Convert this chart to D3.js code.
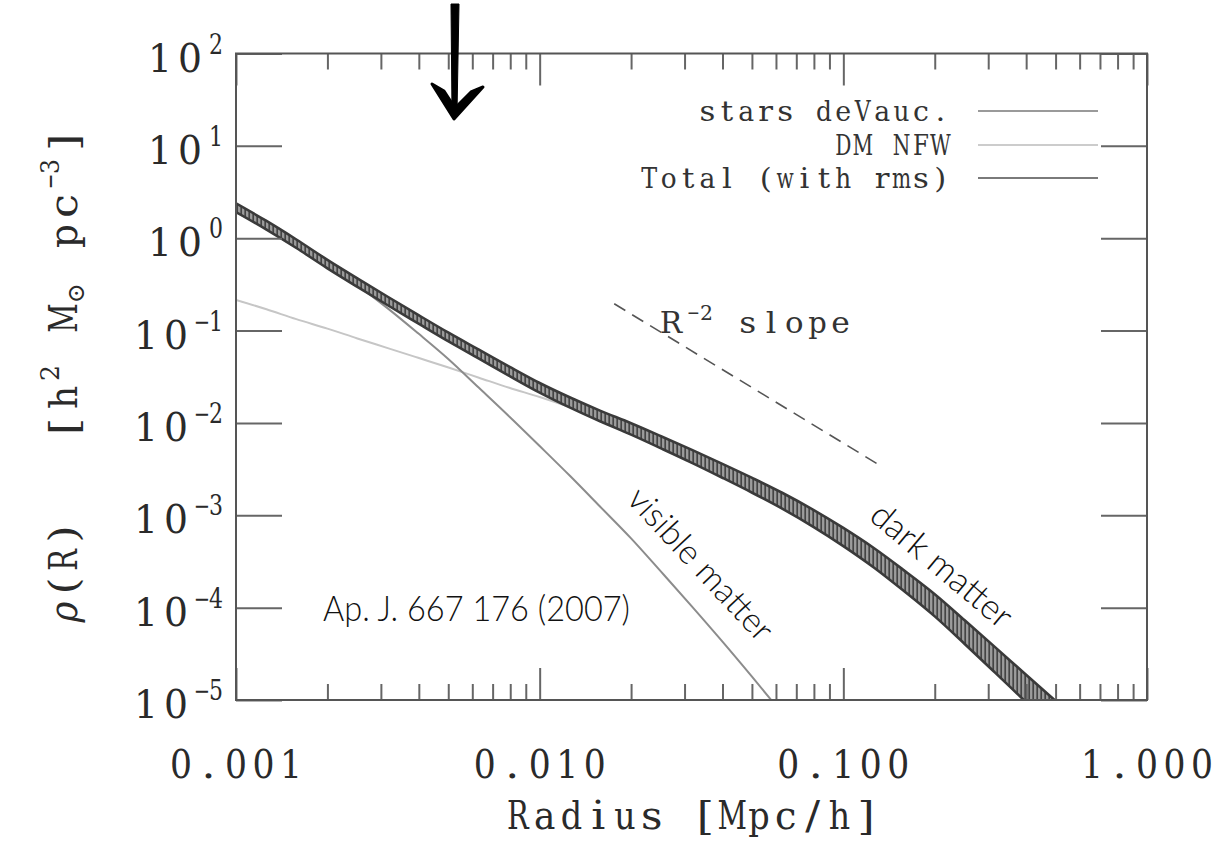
<!DOCTYPE html>
<html>
<head>
<meta charset="utf-8">
<script src="https://cdn.jsdelivr.net/npm/d3@7"></script>
<style>
  html, body { margin: 0; padding: 0; background: #fff; }
  svg { display: block; }
</style>
</head>
<body>
<svg id="chart" width="1218" height="843"></svg>
<script>
// ---- data -------------------------------------------------------------
// radius grid in Mpc/h
const radius = [0.001, 0.00126, 0.00158, 0.00200, 0.00251, 0.00316, 0.00398, 0.00501, 0.00631, 0.00794,
                0.0100, 0.0126, 0.0158, 0.0200, 0.0251, 0.0316, 0.0398, 0.0501, 0.0631, 0.0794,
                0.100, 0.126, 0.158, 0.200, 0.251, 0.316, 0.398, 0.501];

// stellar (de Vaucouleurs) density, first 19 radii
const starsRho = [1.905, 1.288, 0.813, 0.513, 0.309, 0.174, 0.0933, 0.0490, 0.0240, 0.01175,
                  0.00562, 0.00266, 0.001245, 0.000562, 0.000245, 0.0001047, 0.0000437, 0.0000178, 0.00000708];

// dark matter NFW density
const nfwRho = [0.215, 0.170, 0.133, 0.105, 0.0822, 0.0646, 0.0507, 0.0398, 0.0309, 0.0240,
                0.0191, 0.0148, 0.0112, 0.00832, 0.00603, 0.00427, 0.00295, 0.00204, 0.00141, 0.000955,
                0.000589, 0.000339, 0.000191, 0.000102, 0.0000525, 0.0000263, 0.0000132, 0.00000661];

// total density and its rms scatter (in dex)
const totalRho = [2.14, 1.38, 0.871, 0.525, 0.331, 0.209, 0.133, 0.0851, 0.0556, 0.0363,
                  0.0240, 0.0166, 0.0119, 0.00861, 0.00617, 0.00437, 0.00305, 0.00211, 0.00143, 0.000933,
                  0.000582, 0.000347, 0.000197, 0.000106, 0.0000543, 0.0000272, 0.0000135, 0.00000676];
const totalRmsDex = [0.047, 0.047, 0.046, 0.046, 0.046, 0.046, 0.046, 0.047, 0.048, 0.05,
                     0.052, 0.055, 0.058, 0.062, 0.066, 0.07, 0.075, 0.08, 0.086, 0.092,
                     0.098, 0.105, 0.112, 0.12, 0.128, 0.138, 0.148, 0.158];

// reference R^-2 power law segment
const slopeRadius = [0.0176, 0.129];
const slopeRho = [0.195, 0.00363];

// axes
const xMajorTicks = [0.001, 0.01, 0.1, 1];
const xTickLabels = ["0.001", "0.010", "0.100", "1.000"];
const xMinorMultipliers = [2, 3, 4, 5, 6, 7, 8, 9];
const yMajorTicks = [1e2, 1e1, 1e0, 1e-1, 1e-2, 1e-3, 1e-4, 1e-5];
const yTickExponents = ["2", "1", "0", "\u22121", "\u22122", "\u22123", "\u22124", "\u22125"];

const legendLabels = ["stars deVauc.", "DM NFW", "Total (with rms)"];
const legendColors = ["#9a9a9a", "#cccccc", "#7a7a7a"];

// ---- layout -----------------------------------------------------------
const svg = d3.select("#chart");
const plot = { left: 236, right: 1147, top: 53.5, bottom: 700 };
const serif = "'DejaVu Serif', 'Liberation Serif', serif";
const sans = "Lato, 'Open Sans', sans-serif";
const ink = "#2a2a2a";

const x = d3.scaleLog().domain([0.001, 1]).range([plot.left, plot.right]);
const y = d3.scaleLog().domain([1e-5, 1e2]).range([plot.bottom, plot.top]);

// Typewriter-style text: every glyph is centred in a fixed-width cell and
// stretched or squeezed horizontally to a common glyph width.
// segments: [{text, cell, size, dy, gap, fill, italic}]
function cellWidth(segments) {
  return d3.sum(segments, s => [...s.text].length * s.cell + (s.gap || 0));
}
function cellText(parent, x0, y0, segments, color, fill = 0.8) {
  const g = parent.append("g").attr("fill", color).attr("font-family", serif);
  let pos = 0;
  segments.forEach(s => {
    pos += s.gap || 0;
    [...s.text].forEach(ch => {
      if (ch !== " ") {
        const t = g.append("text")
          .attr("text-anchor", "middle")
          .attr("font-size", s.size)
          .attr("font-style", s.italic ? "italic" : null)
          .text(ch);
        const w = t.node().getComputedTextLength();
        const target = s.cell * (s.fill || fill);
        const k = w > 0 ? Math.max(0.72, Math.min(1.1, target / w)) : 1;
        t.attr("transform", `translate(${x0 + pos + s.cell / 2},${y0 + (s.dy || 0)}) scale(${k},1)`);
      }
      pos += s.cell;
    });
  });
  return g;
}

const defs = svg.append("defs");
defs.append("clipPath").attr("id", "plotClip")
  .append("rect")
  .attr("x", plot.left).attr("y", plot.top)
  .attr("width", plot.right - plot.left).attr("height", plot.bottom - plot.top);

// vertical hatching used for the rms error bars
const pat = defs.append("pattern").attr("id", "rmsBars")
  .attr("patternUnits", "userSpaceOnUse").attr("width", 4).attr("height", 20);
pat.append("rect").attr("width", 4).attr("height", 20).attr("fill", "#9c9c9c");
pat.append("line").attr("x1", 1.2).attr("x2", 1.2).attr("y1", 0).attr("y2", 20)
  .attr("stroke", "#444").attr("stroke-width", 1.7);

// ---- curves -----------------------------------------------------------
const curves = svg.append("g").attr("clip-path", "url(#plotClip)");

const line = d3.line().x(d => x(d.r)).y(d => y(d.v)).curve(d3.curveMonotoneX);

const nfwData = radius.map((r, i) => ({ r, v: nfwRho[i] }));
const starsData = starsRho.map((v, i) => ({ r: radius[i], v }));
const totalData = radius.map((r, i) => ({ r, v: totalRho[i], e: totalRmsDex[i] }));

curves.append("path").datum(nfwData).attr("d", line)
  .attr("fill", "none").attr("stroke", "#c6c6c6").attr("stroke-width", 2);

curves.append("path").datum(starsData).attr("d", line)
  .attr("fill", "none").attr("stroke", "#8c8c8c").attr("stroke-width", 2);

const hi = d => d.v * Math.pow(10, d.e);
const lo = d => d.v / Math.pow(10, d.e);

curves.append("path").datum(totalData)
  .attr("d", d3.area().x(d => x(d.r)).y0(d => y(lo(d))).y1(d => y(hi(d))).curve(d3.curveMonotoneX))
  .attr("fill", "url(#rmsBars)");
[hi, lo].forEach(f => {
  curves.append("path").datum(totalData)
    .attr("d", d3.line().x(d => x(d.r)).y(d => y(f(d))).curve(d3.curveMonotoneX))
    .attr("fill", "none").attr("stroke", "#3a3a3a").attr("stroke-width", 2.6);
});

// R^-2 reference slope
svg.append("path")
  .datum(slopeRadius.map((r, i) => ({ r, v: slopeRho[i] })))
  .attr("d", d3.line().x(d => x(d.r)).y(d => y(d.v)))
  .attr("fill", "none").attr("stroke", "#555").attr("stroke-width", 1.6)
  .attr("stroke-dasharray", "13,8");

cellText(svg, 657, 333, [
  { text: "R", cell: 28, size: 30 },
  { text: "\u22122", cell: 13, size: 21, dy: -13, gap: 2, fill: 1 },
  { text: " slope", cell: 23.2, size: 30 }
], "#333");

// ---- axes -------------------------------------------------------------
const xMinorTicks = [];
[0.001, 0.01, 0.1].forEach(d => xMinorMultipliers.forEach(m => xMinorTicks.push(d * m)));

const axisStyle = g => {
  g.select(".domain").remove();
  g.selectAll(".tick text").remove();
  g.selectAll(".tick line").attr("stroke", "#666").attr("stroke-width", 2);
};

svg.append("g").attr("transform", `translate(0,${plot.bottom})`)
  .call(d3.axisBottom(x).tickValues(xMinorTicks).tickSize(-16).tickSizeOuter(0))
  .call(axisStyle);
svg.append("g").attr("transform", `translate(0,${plot.top})`)
  .call(d3.axisTop(x).tickValues(xMinorTicks).tickSize(-16).tickSizeOuter(0))
  .call(axisStyle);
svg.append("g").attr("transform", `translate(0,${plot.bottom})`)
  .call(d3.axisBottom(x).tickValues(xMajorTicks).tickSize(-32).tickSizeOuter(0))
  .call(axisStyle);
svg.append("g").attr("transform", `translate(0,${plot.top})`)
  .call(d3.axisTop(x).tickValues(xMajorTicks).tickSize(-32).tickSizeOuter(0))
  .call(axisStyle);
svg.append("g").attr("transform", `translate(${plot.left},0)`)
  .call(d3.axisLeft(y).tickValues(yMajorTicks).tickSize(-46).tickSizeOuter(0))
  .call(axisStyle);
svg.append("g").attr("transform", `translate(${plot.right},0)`)
  .call(d3.axisRight(y).tickValues(yMajorTicks).tickSize(-46).tickSizeOuter(0))
  .call(axisStyle);

// tick labels
const xLabelG = svg.append("g");
xMajorTicks.forEach((d, i) => {
  const segs = [{ text: xTickLabels[i], cell: 27.5, size: 40 }];
  cellText(xLabelG, x(d) - cellWidth(segs) / 2, 778, segs, ink);
});

const yLabelG = svg.append("g");
yMajorTicks.forEach((d, i) => {
  const segs = [
    { text: "10", cell: 30, size: 40 },
    { text: yTickExponents[i], cell: 14, size: 27, dy: -18, gap: 4, fill: 1 }
  ];
  cellText(yLabelG, 223 - cellWidth(segs), y(d) + 18, segs, ink);
});

// frame
svg.append("rect")
  .attr("x", plot.left).attr("y", plot.top)
  .attr("width", plot.right - plot.left).attr("height", plot.bottom - plot.top)
  .attr("fill", "none").attr("stroke", "#555").attr("stroke-width", 2);

// axis titles
{
  const segs = [{ text: "Radius [Mpc/h]", cell: 26.8, size: 40 }];
  cellText(svg, 692 - cellWidth(segs) / 2, 829, segs, ink);
}

const yTitle = svg.append("g").attr("transform", "translate(77,625) rotate(-90)");
cellText(yTitle, 0, 0, [
  { text: "\u03c1", cell: 26, size: 40, italic: true },
  { text: "(R)", cell: 26, size: 40 }
], ink);
cellText(yTitle, 184, 0, [
  { text: "[h", cell: 29, size: 40 },
  { text: "2", cell: 16, size: 26, dy: -18, gap: 2, fill: 1 },
  { text: " M", cell: 30, size: 40, gap: 2 },
  { text: "\u2299", cell: 20, size: 24, dy: 7, fill: 1 },
  { text: " pc", cell: 30, size: 40, gap: 2 },
  { text: "\u22123", cell: 15, size: 26, dy: -18, gap: 2, fill: 1 },
  { text: "]", cell: 29, size: 40, gap: 2 }
], ink);

// ---- legend -----------------------------------------------------------
const legendY = [111, 145, 178];
const legend = svg.append("g");
legendLabels.forEach((lab, i) => {
  const segs = [{ text: lab, cell: 19.4, size: 28 }];
  cellText(legend, 950 - cellWidth(segs), legendY[i] + 10, segs, "#333", 0.82);
  legend.append("line")
    .attr("x1", 978).attr("x2", 1098).attr("y1", legendY[i]).attr("y2", legendY[i])
    .attr("stroke", legendColors[i]).attr("stroke-width", 2);
});

// ---- annotations ------------------------------------------------------
svg.append("text")
  .attr("x", 323).attr("y", 621)
  .attr("font-family", sans).attr("font-weight", 300).attr("font-size", 35).attr("fill", "#111")
  .attr("textLength", 307).attr("lengthAdjust", "spacingAndGlyphs")
  .text("Ap. J. 667 176 (2007)");

svg.append("text")
  .attr("transform", "translate(701,564) rotate(47)")
  .attr("text-anchor", "middle").attr("dy", "0.35em")
  .attr("font-family", sans).attr("font-weight", 300).attr("font-size", 34).attr("fill", "#111")
  .text("visible matter");

svg.append("text")
  .attr("transform", "translate(942,565) rotate(40)")
  .attr("text-anchor", "middle").attr("dy", "0.35em")
  .attr("font-family", sans).attr("font-weight", 300).attr("font-size", 35).attr("fill", "#111")
  .text("dark matter");

// hand-drawn pointer above the plot
const arrow = svg.append("g").attr("fill", "#000").attr("stroke", "#000");
arrow.append("path")
  .attr("d", "M451,4 L459,4 L457,112 L452,112 Z").attr("stroke-width", 1);
arrow.append("path")
  .attr("d", "M432,84 L454,119 L483,87 L471,92 L455,108 L444,91 Z")
  .attr("stroke-width", 3).attr("stroke-linejoin", "round");
</script>
</body>
</html>
